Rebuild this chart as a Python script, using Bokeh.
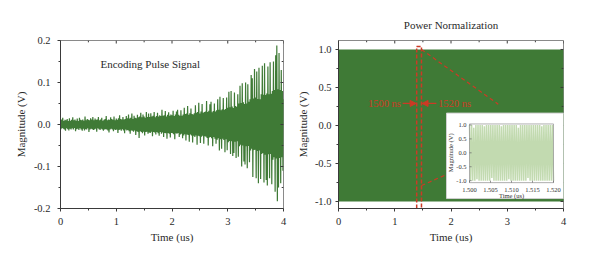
import numpy as np
from bokeh.plotting import figure
from bokeh.layouts import row
from bokeh.models import (Range1d, FixedTicker, PrintfTickFormatter, Arrow, NormalHead)
from bokeh.core.properties import value
from bokeh.embed import file_html
from bokeh.resources import INLINE

FONT = "Liberation Serif"
GREEN = "#3f7a36"
LIGHT = "#8fbc70"
RED = "#cc3a25"
AXIS = "#3a3a3a"
TXT = "#2a2a2a"

# ---------------- data ----------------
enc_signal = [
    0.009, -0.011, 0.012, -0.008, 0.016, -0.010, 0.008, -0.012, 0.011, -0.015, 0.010, -0.009, 0.013, -0.011, 0.008, -0.014, 0.015, -0.010, 0.009, -0.012,
    0.011, -0.009, 0.017, -0.012, 0.010, -0.008, 0.012, -0.016, 0.009, -0.011, 0.014, -0.010, 0.008, -0.013, 0.016, -0.009, 0.011, -0.012, 0.010, -0.015,
    0.012, -0.010, 0.009, -0.014, 0.019, -0.011, 0.010, -0.012, 0.013, -0.009, 0.011, -0.018, 0.010, -0.012, 0.015, -0.010, 0.012, -0.011, 0.018, -0.013,
    0.010, -0.012, 0.014, -0.010, 0.011, -0.017, 0.012, -0.009, 0.018, -0.011, 0.010, -0.013, 0.012, -0.010, 0.016, -0.012, 0.009, -0.015, 0.011, -0.012,
    0.013, -0.011, 0.020, -0.012, 0.010, -0.014, 0.012, -0.019, 0.011, -0.012, 0.017, -0.010, 0.013, -0.012, 0.011, -0.016, 0.019, -0.012, 0.010, -0.013,
    0.014, -0.012, 0.011, -0.020, 0.015, -0.013, 0.022, -0.012, 0.013, -0.015, 0.012, -0.011, 0.018, -0.014, 0.012, -0.021, 0.013, -0.012, 0.020, -0.014,
    0.015, -0.013, 0.024, -0.016, 0.014, -0.022, 0.016, -0.014, 0.026, -0.015, 0.013, -0.017, 0.021, -0.014, 0.016, -0.025, 0.015, -0.016, 0.023, -0.018,
    0.017, -0.032, 0.019, -0.016, 0.028, -0.018, 0.017, -0.021, 0.024, -0.017, 0.019, -0.026, 0.016, -0.018, 0.030, -0.017, 0.018, -0.022, 0.026, -0.019,
    0.018, -0.020, 0.027, -0.017, 0.019, -0.028, 0.021, -0.018, 0.030, -0.019, 0.017, -0.024, 0.020, -0.018, 0.028, -0.021, 0.019, -0.027, 0.022, -0.018,
    0.020, -0.022, 0.035, -0.019, 0.021, -0.030, 0.022, -0.020, 0.032, -0.021, 0.019, -0.034, 0.023, -0.020, 0.029, -0.022, 0.021, -0.031, 0.024, -0.020,
    0.022, -0.021, 0.033, -0.023, 0.020, -0.035, 0.024, -0.021, 0.031, -0.022, 0.035, -0.020, 0.023, -0.030, 0.021, -0.024, 0.034, -0.022, 0.021, -0.033,
    0.024, -0.026, 0.040, -0.023, 0.025, -0.038, 0.026, -0.024, 0.044, -0.025, 0.023, -0.041, 0.027, -0.024, 0.038, -0.026, 0.025, -0.043, 0.024, -0.027,
    0.027, -0.030, 0.046, -0.026, 0.028, -0.048, 0.030, -0.027, 0.052, -0.028, 0.026, -0.044, 0.031, -0.029, 0.049, -0.027, 0.028, -0.046, 0.030, -0.028,
    0.031, -0.029, 0.056, -0.032, 0.030, -0.050, 0.033, -0.031, 0.048, -0.030, 0.054, -0.033, 0.029, -0.052, 0.032, -0.030, 0.050, -0.034, 0.031, -0.046,
    0.034, -0.036, 0.060, -0.033, 0.035, -0.062, 0.066, -0.035, 0.034, -0.058, 0.036, -0.034, 0.063, -0.037, 0.035, -0.066, 0.037, -0.035, 0.064, -0.061,
    0.040, -0.042, 0.078, -0.039, 0.041, -0.070, 0.080, -0.040, 0.043, -0.075, 0.039, -0.068, 0.076, -0.041, 0.044, -0.080, 0.042, -0.040, 0.072, -0.077,
    0.050, -0.052, 0.092, -0.048, 0.051, -0.100, 0.098, -0.050, 0.053, -0.088, 0.049, -0.095, 0.100, -0.052, 0.050, -0.104, 0.096, -0.051, 0.054, -0.090,
    0.060, -0.062, 0.118, -0.058, 0.110, -0.125, 0.062, -0.061, 0.132, -0.060, 0.064, -0.128, 0.126, -0.063, 0.061, -0.140, 0.135, -0.062, 0.060, -0.130,
    0.072, -0.070, 0.140, -0.068, 0.071, -0.138, 0.146, -0.072, 0.070, -0.132, 0.074, -0.145, 0.138, -0.071, 0.072, -0.128, 0.148, -0.070, 0.073, -0.142,
    0.080, -0.084, 0.150, -0.078, 0.082, -0.160, 0.165, -0.081, 0.188, -0.183, 0.084, -0.150, 0.170, -0.080, 0.082, -0.140, 0.130, -0.078, 0.080, -0.110,
    0.060,
]
enc_time = np.linspace(0.0, 4.0, len(enc_signal))

pn_levels = [
    1, -1, 1, -1, 1, -1, 1, -1, 1, -1, 1, -1, 1, -1, 1, -1, 1, -1, 1, -1,
    1, -1, 1, -1, 1, -1, 1, -1, 1, -1, 1, -1, 1, -1, 1, -1, 1, -1, 1, -1,
    1, -1, 1, -1, 1, -1, 1, -1, 1, -1, 1, -1, 1, -1, 1, -1, 1, -1, 1, -1,
    1, -1, 1, -1, 1, -1, 1, -1, 1, -1, 1, -1, 1, -1, 1, -1, 1, -1, 1, -1,
    1, -1, 1, -1, 1, -1, 1, -1, 1, -1, 1, -1, 1, -1, 1, -1, 1, -1, 1, -1,
    1, -1, 1, -1, 1, -1, 1, -1, 1, -1, 1, -1, 1, -1, 1, -1, 1, -1, 1, -1,
    1, -1, 1, -1, 1, -1, 1, -1, 1, -1, 1, -1, 1, -1, 1, -1, 1, -1, 1, -1,
    1, -1, 1, -1, 1, -1, 1, -1, 1, -1, 1, -1, 1, -1, 1, -1, 1, -1, 1, -1,
    1, -1, 1, -1, 1, -1, 1, -1, 1, -1, 1, -1, 1, -1, 1, -1, 1, -1, 1, -1,
    1, -1, 1, -1, 1, -1, 1, -1, 1, -1, 1, -1, 1, -1, 1, -1, 1, -1, 1, -1,
    1, -1, 1, -1, 1, -1, 1, -1, 1, -1, 1, -1, 1, -1, 1, -1, 1, -1, 1, -1,
    1, -1, 1, -1, 1, -1, 1, -1, 1, -1, 1, -1, 1, -1, 1, -1, 1, -1, 1, -1,
    1, -1, 1, -1, 1, -1, 1, -1, 1, -1, 1, -1, 1, -1, 1, -1, 1, -1, 1, -1,
    1, -1, 1, -1, 1, -1, 1, -1, 1, -1, 1, -1, 1, -1, 1, -1, 1, -1, 1, -1,
    1, -1, 1, -1, 1, -1, 1, -1, 1, -1, 1, -1, 1, -1, 1, -1, 1, -1, 1, -1,
    1, -1, 1, -1, 1, -1, 1, -1, 1, -1, 1, -1, 1, -1, 1, -1, 1, -1, 1, -1,
    1, -1, 1, -1, 1, -1, 1, -1, 1, -1, 1, -1, 1, -1, 1, -1, 1, -1, 1, -1,
    1, -1, 1, -1, 1, -1, 1, -1, 1, -1, 1, -1, 1, -1, 1, -1, 1, -1, 1, -1,
    1, -1, 1, -1, 1, -1, 1, -1, 1, -1, 1, -1, 1, -1, 1, -1, 1, -1, 1, -1,
    1, -1, 1, -1, 1, -1, 1, -1, 1, -1, 1, -1, 1, -1, 1, -1, 1, -1, 1, -1,
]
pn_time = np.linspace(0.0, 4.0, len(pn_levels))

zoom_levels = [
    1, -1, 1, -1, 0.9, -1, 1, -0.95, 1, -1, 1, -1, 1, -1, 0.95, -1, 1, -1, 1, -1,
    1, -0.9, 1, -1, 1, -1, 1, -1, 1, -1, 0.95, -1, 1, -1, 1, -1, 1, -0.95, 1, -1,
    1, -1, 1, -1, 1, -1, 0.9, -1, 1, -1, 1, -1, 1, -1, 1, -0.9, 1, -1, 1, -1,
    1, -1, 1, -1, 1, -1, 1, -1, 0.95, -1, 1, -1, 1, -1, 1, -1, 1, -1, 1, -1,
]
zoom_time = np.linspace(1.500, 1.520, len(zoom_levels))

time_ticks = [0, 1, 2, 3, 4]
time_minor = [0.5, 1.5, 2.5, 3.5]
enc_ticks = [-0.2, -0.1, 0.0, 0.1, 0.2]
enc_minor = [-0.15, -0.05, 0.05, 0.15]
pn_ticks = [-1.0, -0.5, 0.0, 0.5, 1.0]
pn_minor = [-0.75, -0.25, 0.25, 0.75]
zoom_x_ticks = [1.500, 1.505, 1.510, 1.515, 1.520]
zoom_y_ticks = [-1.0, -0.5, 0.0, 0.5, 1.0]

mark_start, mark_end = 1.39, 1.475
label_start, label_end = "1500 ns", "1520 ns"


def style(p, yticks, yminor, lab_standoff, axlab_standoff, tick_dx, tick_dy):
    p.outline_line_color = "#8a8a8a"
    p.outline_line_width = 1
    p.xgrid.visible = False
    p.ygrid.visible = False
    p.xaxis.ticker = FixedTicker(ticks=time_ticks, minor_ticks=time_minor)
    p.yaxis.ticker = FixedTicker(ticks=yticks, minor_ticks=yminor)
    p.yaxis.formatter = PrintfTickFormatter(format="%.1f")
    for ax in (p.xaxis[0], p.yaxis[0]):
        ax.axis_line_color = AXIS
        ax.major_tick_line_color = AXIS
        ax.minor_tick_line_color = AXIS
        ax.major_tick_out = 3
        ax.major_tick_in = 0
        ax.minor_tick_out = 2
        ax.minor_tick_in = 0
        ax.major_label_text_font = FONT
        ax.major_label_text_font_size = "10.5px"
        ax.major_label_text_color = TXT
        ax.axis_label_text_font = FONT
        ax.axis_label_text_font_size = "11px"
        ax.axis_label_text_font_style = "normal"
        ax.axis_label_text_color = TXT
    p.xaxis.axis_label = "Time (us)"
    p.yaxis.axis_label = "Magnitude (V)"
    p.xaxis.major_label_standoff = 6
    p.xaxis.axis_label_standoff = 3
    p.yaxis.major_label_standoff = lab_standoff
    p.yaxis.axis_label_standoff = axlab_standoff
    # mirrored inward ticks on the top and right edges
    x_end = p.x_range.end
    y_end = p.y_range.end
    p.segment(x0=time_ticks, x1=time_ticks, y0=[y_end] * len(time_ticks),
              y1=[y_end - tick_dy] * len(time_ticks), line_color=AXIS, line_width=1)
    p.segment(x0=time_minor, x1=time_minor, y0=[y_end] * len(time_minor),
              y1=[y_end - tick_dy * 0.6] * len(time_minor), line_color=AXIS, line_width=1)
    p.segment(x0=[x_end] * len(yticks), x1=[x_end - tick_dx] * len(yticks), y0=yticks,
              y1=yticks, line_color=AXIS, line_width=1)
    p.segment(x0=[x_end] * len(yminor), x1=[x_end - tick_dx * 0.6] * len(yminor), y0=yminor,
              y1=yminor, line_color=AXIS, line_width=1)


# ---------------- left panel ----------------
p1 = figure(width=293, height=262, output_backend="svg", toolbar_location=None,
            x_range=Range1d(0, 4), y_range=Range1d(-0.2, 0.2),
            min_border_left=60, min_border_right=10, min_border_top=40, min_border_bottom=54)
p1.line(enc_time, enc_signal, line_color=GREEN, line_width=1.2)
style(p1, enc_ticks, enc_minor, 7, 4, 0.054, 0.0072)
p1.text(x=[1.61], y=[0.145], text=["Encoding Pulse Signal"], text_font=value(FONT),
        text_font_size="11px", text_align="center", text_baseline="middle",
        text_color=TXT)

# ---------------- right panel ----------------
p2 = figure(width=307, height=262, output_backend="svg", toolbar_location=None,
            x_range=Range1d(0, 4), y_range=Range1d(-1.092, 1.118),
            min_border_left=45, min_border_right=37, min_border_top=39, min_border_bottom=54)
p2.title.text = "Power Normalization"
p2.title.text_font = FONT
p2.title.text_font_size = "11px"
p2.title.text_font_style = "normal"
p2.title.align = "center"
p2.title.text_color = TXT
p2.title.standoff = 20
p2.line(pn_time, pn_levels, line_color=GREEN, line_width=1.4)
style(p2, pn_ticks, pn_minor, 4, 3, 0.053, 0.039)

# red dashed marker
p2.line([mark_start, mark_start, mark_end, mark_end], [-1.25, 1.04, 1.04, -1.25],
        line_color=RED, line_dash="4 2", line_width=1.5)
p2.line([mark_end, 2.84], [1.0, 0.28], line_color=RED, line_dash="4 3", line_width=1.2)
p2.line([mark_end, 2.15], [-0.79, -0.57], line_color=RED, line_dash="4 3", line_width=1.2)
p2.add_layout(Arrow(end=NormalHead(size=6, fill_color=RED, line_color=RED),
                    x_start=1.14, y_start=0.29, x_end=mark_start - 0.01, y_end=0.29,
                    line_color=RED, line_width=1.2))
p2.add_layout(Arrow(end=NormalHead(size=6, fill_color=RED, line_color=RED),
                    x_start=1.74, y_start=0.29, x_end=mark_end + 0.01, y_end=0.29,
                    line_color=RED, line_width=1.2))
p2.text(x=[1.11], y=[0.29], text=[label_start], text_font=value(FONT), text_font_size="10.5px",
        text_align="right", text_baseline="middle", text_color=RED)
p2.text(x=[1.77], y=[0.29], text=[label_end], text_font=value(FONT), text_font_size="10.5px",
        text_align="left", text_baseline="middle", text_color=RED)

# ---------------- inset (sub-coordinates inside the right panel) ----------------
p2.quad(left=[1.92], right=[4.1], top=[0.163], bottom=[-0.961],
        fill_color="white", line_color="#d0d0d0", line_width=1)
sub = p2.subplot(x_source=Range1d(1.500, 1.520), y_source=Range1d(-1.071, 1.036),
                 x_target=Range1d(2.329, 3.822), y_target=Range1d(-0.752, 0.020))
sub.line(zoom_time, zoom_levels, line_color=LIGHT, line_alpha=0.55, line_width=1.5)
sub.quad(left=[1.500], right=[1.520], top=[1.036], bottom=[-1.071],
         fill_color=None, line_color="#9a9a9a", line_width=0.8)
sub.segment(x0=zoom_x_ticks, x1=zoom_x_ticks, y0=[-1.071] * 5, y1=[-1.0] * 5,
            line_color="#666666", line_width=0.7)
sub.segment(x0=[1.500] * 5, x1=[1.5005] * 5, y0=zoom_y_ticks, y1=zoom_y_ticks,
            line_color="#666666", line_width=0.7)
sub.text(x=zoom_x_ticks, y=[-1.33] * 5, text=["%.3f" % v for v in zoom_x_ticks],
         text_font=value(FONT), text_font_size="6.5px", text_align="center",
         text_baseline="middle", text_color="#333333")
sub.text(x=[1.4993] * 5, y=zoom_y_ticks, text=["%.1f" % v for v in zoom_y_ticks],
         text_font=value(FONT), text_font_size="6.5px", text_align="right",
         text_baseline="middle", text_color="#333333")
sub.text(x=[1.510], y=[-1.55], text=["Time (us)"], text_font=value(FONT),
         text_font_size="6.5px", text_align="center", text_baseline="middle",
         text_color="#333333")
sub.text(x=[1.4955], y=[0.0], text=["Magnitude (V)"], text_font=value(FONT),
         text_font_size="6.5px", text_align="center", text_baseline="middle",
         angle=np.pi / 2, text_color="#333333")

layout = row(p1, p2)
open("out.html", "w").write(file_html(layout, INLINE))
